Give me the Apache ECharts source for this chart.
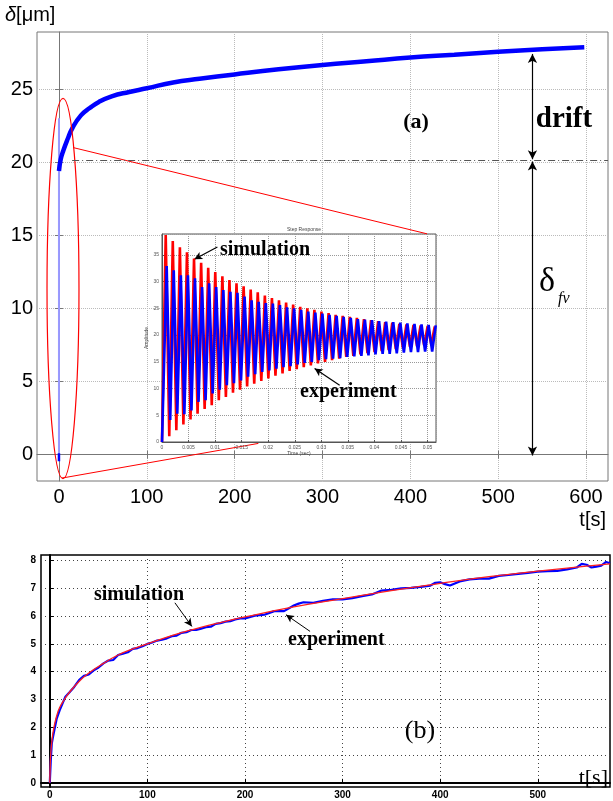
<!DOCTYPE html>
<html lang="en">
<head>
<meta charset="UTF-8">
<title>creep response</title>
<script src="https://cdn.jsdelivr.net/npm/echarts@6.0.0/dist/echarts.min.js"></script>
<style>
  body{margin:0;background:#fff;}
  #main{width:613px;height:801px;}
</style>
</head>
<body>
<div id="main"></div>
<script>
// (a) measured displacement, um, over 600 s
var mainT = [0, 2, 5, 10, 15, 25, 35, 45, 60, 80, 100, 130, 160, 200, 250, 300, 350, 400, 450, 500, 550, 598];
var mainV = [19.4, 20.2, 20.8, 21.6, 22.3, 23.2, 23.7, 24.1, 24.5, 24.8, 25.05, 25.45, 25.7, 26.0, 26.35, 26.65, 26.9, 27.15, 27.35, 27.55, 27.72, 27.85];
// compressed initial oscillation at t=0
var spikeT = [0, 0];
var spikeV = [-0.4, 23.0];
var tipV = [-0.45, 0.1];
var mainXTicks = [0, 100, 200, 300, 400, 500, 600];
var mainYTicks = [0, 5, 10, 15, 20, 25];

// inset: step response, time in ms
var simPeakT = [0.70, 2.03, 3.37, 4.70, 6.03, 7.37, 8.70, 10.03, 11.37, 12.70, 14.03, 15.37, 16.70, 18.03, 19.37, 20.70, 22.03, 23.37, 24.70, 26.03, 27.37, 28.70, 30.03, 31.37, 32.70, 34.03, 35.37, 36.70, 38.03, 39.37, 40.70, 42.03, 43.37, 44.70, 46.03, 47.37, 48.70, 50.03, 51.37];
var simPeakV = [38.7, 37.6, 36.4, 35.5, 34.3, 33.5, 32.6, 31.8, 31.0, 30.3, 29.7, 29.1, 28.5, 28.0, 27.4, 26.9, 26.5, 26.1, 25.7, 25.3, 25.0, 24.7, 24.4, 24.1, 23.8, 23.6, 23.4, 23.2, 23.0, 22.8, 22.6, 22.4, 22.3, 22.1, 22.0, 21.9, 21.8, 21.7, 21.6];
var simTroughT = [1.37, 2.70, 4.03, 5.37, 6.70, 8.03, 9.37, 10.70, 12.03, 13.37, 14.70, 16.03, 17.37, 18.70, 20.03, 21.37, 22.70, 24.03, 25.37, 26.70, 28.03, 29.37, 30.70, 32.03, 33.37, 34.70, 36.03, 37.37, 38.70, 40.03, 41.37, 42.70, 44.03, 45.37, 46.70, 48.03, 49.37, 50.70];
var simTroughV = [1.1, 2.2, 3.3, 4.2, 5.3, 6.2, 6.9, 7.8, 8.4, 9.2, 9.8, 10.4, 10.9, 11.4, 11.9, 12.4, 12.8, 13.3, 13.6, 14.0, 14.3, 14.7, 15.0, 15.3, 15.6, 15.9, 16.1, 16.4, 16.6, 16.8, 17.0, 17.2, 17.4, 17.6, 17.8, 17.9, 18.1, 18.3];
var expPeakT = [0.88, 2.21, 3.55, 4.88, 6.21, 7.55, 8.88, 10.21, 11.55, 12.88, 14.21, 15.55, 16.88, 18.21, 19.55, 20.88, 22.21, 23.55, 24.88, 26.21, 27.55, 28.88, 30.21, 31.55, 32.88, 34.21, 35.55, 36.88, 38.21, 39.55, 40.88, 42.21, 43.55, 44.88, 46.21, 47.55, 48.88, 50.21, 51.55];
var expPeakV = [32.9, 32.1, 31.2, 31.2, 30.6, 29.0, 29.7, 29.0, 28.4, 28.1, 27.9, 27.2, 26.5, 26.2, 26.0, 25.9, 25.6, 25.2, 25.0, 24.7, 24.4, 24.2, 24.0, 23.8, 23.6, 23.4, 23.2, 23.0, 22.9, 22.8, 22.6, 22.5, 22.4, 22.3, 22.2, 22.1, 22.0, 21.9, 21.8];
var expTroughT = [1.55, 2.88, 4.21, 5.55, 6.88, 8.21, 9.55, 10.88, 12.21, 13.55, 14.88, 16.21, 17.55, 18.88, 20.21, 21.55, 22.88, 24.21, 25.55, 26.88, 28.21, 29.55, 30.88, 32.21, 33.55, 34.88, 36.21, 37.55, 38.88, 40.21, 41.55, 42.88, 44.21, 45.55, 46.88, 48.21, 49.55, 50.88];
var expTroughV = [4.1, 5.3, 5.2, 5.9, 7.5, 7.8, 9.1, 9.8, 10.6, 11.0, 11.5, 12.2, 12.7, 13.1, 13.4, 13.7, 14.0, 14.2, 14.5, 14.8, 15.0, 15.3, 15.5, 15.6, 15.7, 15.9, 16.0, 16.1, 16.2, 16.4, 16.5, 16.5, 16.6, 16.7, 16.8, 16.8, 16.9, 16.9];

// (b) drift part, experiment vs simulation
var simT = [0, 0.5, 1, 2, 4, 7, 10, 15, 20, 30, 40, 55, 70, 85, 100, 125, 150, 175, 200, 250, 300, 350, 400, 450, 500, 550, 574];
var simV = [0, 0.7, 1.05, 1.45, 1.95, 2.4, 2.7, 3.0, 3.25, 3.65, 3.95, 4.3, 4.6, 4.82, 5.0, 5.3, 5.55, 5.77, 5.97, 6.33, 6.63, 6.92, 7.18, 7.42, 7.62, 7.8, 7.88];
var expT = [0, 1, 2, 3, 5, 7, 10, 13, 16, 20, 25, 30, 35, 40, 45, 50, 55, 60, 65, 70, 75, 80, 85, 90, 95, 100, 105, 110, 115, 120, 125, 130, 135, 140, 145, 150, 155, 160, 165, 170, 175, 180, 185, 190, 195, 200, 210, 220, 230, 240, 250, 255, 260, 270, 280, 290, 300, 310, 320, 330, 340, 350, 360, 370, 380, 390, 395, 400, 405, 410, 420, 430, 440, 450, 460, 470, 480, 490, 500, 510, 520, 530, 540, 545, 550, 555, 560, 565, 570, 574];
var expV = [0, 0.8, 1.4, 1.6, 1.95, 2.3, 2.6, 2.85, 3.1, 3.25, 3.45, 3.7, 3.85, 3.9, 4.05, 4.15, 4.3, 4.4, 4.42, 4.6, 4.65, 4.7, 4.82, 4.85, 4.92, 5.0, 5.05, 5.12, 5.15, 5.2, 5.28, 5.3, 5.4, 5.42, 5.5, 5.5, 5.55, 5.6, 5.62, 5.72, 5.75, 5.8, 5.82, 5.88, 5.92, 5.92, 6.02, 6.05, 6.18, 6.18, 6.38, 6.45, 6.5, 6.48, 6.55, 6.6, 6.6, 6.65, 6.72, 6.78, 6.92, 6.95, 7.0, 7.02, 7.05, 7.1, 7.2, 7.22, 7.15, 7.1, 7.25, 7.32, 7.35, 7.35, 7.45, 7.48, 7.52, 7.56, 7.6, 7.62, 7.63, 7.68, 7.75, 7.88, 7.85, 7.75, 7.78, 7.82, 7.95, 7.9];
var botXTicks = [0, 100, 200, 300, 400, 500];
var botYTicks = [0, 1, 2, 3, 4, 5, 6, 7, 8];

function pairs(xs, ys) {
    return xs.map(function (x, i) { return [x, ys[i]]; });
}
function zigzag(pt, pv, tt, tv) {
    var d = [[0, 0]];
    for (var i = 0; i < pt.length; i++) {
        d.push([pt[i], pv[i]]);
        if (i < tt.length) d.push([tt[i], tv[i]]);
    }
    return d;
}
function arrow(a, b, both) {
    return [{ coord: a, symbol: both ? 'arrow' : 'none' }, { coord: b, symbol: 'arrow' }];
}

var myChart = echarts.init(document.getElementById('main'));
var sans = 'Liberation Sans';
var serif = 'Liberation Serif';

var option = {
    animation: false,
    backgroundColor: '#fff',
    grid: [
        { left: 37, top: 32, width: 571, height: 449, show: true, borderColor: '#777', borderWidth: 1 },
        { left: 162, top: 234, width: 274, height: 208, show: true, backgroundColor: '#fff', borderColor: '#555', borderWidth: 1, z: 5 },
        { left: 41, top: 555, width: 569, height: 232, show: true, borderColor: '#000', borderWidth: 1.5 }
    ],
    xAxis: [
        { gridIndex: 0, type: 'value', min: -25, max: 625,
          axisLine: { lineStyle: { color: '#777' } },
          axisTick: { inside: true, length: 4, customValues: mainXTicks, lineStyle: { color: '#777' } },
          axisLabel: { customValues: mainXTicks, fontSize: 20, fontFamily: sans, color: '#000', margin: 6 },
          splitLine: { show: true, lineStyle: { type: 'dotted', color: '#bbb' } } },
        { gridIndex: 0, type: 'value', position: 'top', min: -25, max: 625,
          axisLine: { show: false },
          axisTick: { inside: true, length: 4, customValues: mainXTicks, lineStyle: { color: '#777' } },
          axisLabel: { show: false }, splitLine: { show: false } },
        { gridIndex: 1, type: 'value', min: 0, max: 51.6, interval: 5, z: 5,
          name: 'Time (sec)', nameLocation: 'middle', nameGap: 9,
          nameTextStyle: { fontSize: 5, fontFamily: sans, color: '#444' },
          axisLine: { lineStyle: { color: '#555' } },
          axisTick: { inside: true, length: 2, lineStyle: { color: '#555' } },
          axisLabel: { fontSize: 5, fontFamily: sans, color: '#555', margin: 3, showMaxLabel: false,
                       formatter: function (v) { return v === 0 ? '0' : String(v / 1000); } },
          splitLine: { show: true, lineStyle: { type: 'dotted', color: '#999' } } },
        { gridIndex: 2, type: 'value', min: -9, max: 574,
          axisLine: { lineStyle: { color: '#000', width: 2 } },
          axisTick: { inside: true, length: 4, customValues: botXTicks, lineStyle: { color: '#000' } },
          axisLabel: { customValues: botXTicks, fontSize: 10, fontWeight: 'bold', fontFamily: sans, color: '#000', margin: 3 },
          splitLine: { show: true, lineStyle: { type: [1, 3], color: '#444' } } }
    ],
    yAxis: [
        { gridIndex: 0, type: 'value', min: -1.8, max: 28.9,
          axisLine: { lineStyle: { color: '#777' } },
          axisTick: { inside: true, length: 4, customValues: mainYTicks, lineStyle: { color: '#777' } },
          axisLabel: { customValues: mainYTicks, fontSize: 20, fontFamily: sans, color: '#000', margin: 4 },
          splitLine: { show: true, lineStyle: { type: 'dotted', color: '#bbb' } } },
        { gridIndex: 0, type: 'value', position: 'right', min: -1.8, max: 28.9,
          axisLine: { show: false },
          axisTick: { inside: true, length: 4, customValues: mainYTicks, lineStyle: { color: '#777' } },
          axisLabel: { show: false }, splitLine: { show: false } },
        { gridIndex: 1, type: 'value', min: 0, max: 38.9, interval: 5, z: 5,
          name: 'Amplitude', nameLocation: 'middle', nameGap: 9,
          nameTextStyle: { fontSize: 5, fontFamily: sans, color: '#444' },
          axisLine: { lineStyle: { color: '#555' } },
          axisTick: { inside: true, length: 2, lineStyle: { color: '#555' } },
          axisLabel: { fontSize: 5, fontFamily: sans, color: '#555', margin: 3, showMaxLabel: false },
          splitLine: { show: true, lineStyle: { type: 'dotted', color: '#999' } } },
        { gridIndex: 2, type: 'value', min: -0.15, max: 8.2,
          axisLine: { lineStyle: { color: '#000', width: 2 } },
          axisTick: { inside: true, length: 4, customValues: botYTicks, lineStyle: { color: '#000' } },
          axisLabel: { customValues: botYTicks, fontSize: 10, fontWeight: 'bold', fontFamily: sans, color: '#000', margin: 5 },
          splitLine: { show: true, lineStyle: { type: [1, 3], color: '#444' } } }
    ],
    title: {
        text: 'Step Response', left: 299, top: 222, textAlign: 'center',
        textStyle: { fontSize: 5, fontWeight: 'normal', fontFamily: sans, color: '#444' }
    },
    series: [
        { type: 'line', xAxisIndex: 0, yAxisIndex: 0, data: pairs(spikeT, spikeV), showSymbol: false, z: 2,
          lineStyle: { color: '#9a9aff', width: 2 },
          markLine: { silent: true, symbol: 'none', label: { show: false },
                      lineStyle: { color: '#ff0000', width: 1, type: 'solid' },
                      data: [
                          [{ coord: [16, 21.0] }, { coord: [419, 15.1] }],
                          [{ coord: [3.5, -1.6] }, { coord: [227, 0.77] }]
                      ] } },
        { type: 'line', xAxisIndex: 0, yAxisIndex: 0, data: pairs(spikeT, tipV), showSymbol: false, z: 3,
          lineStyle: { color: '#0000ff', width: 2.5 } },
        { type: 'line', xAxisIndex: 0, yAxisIndex: 0, data: pairs(mainT, mainV), showSymbol: false, smooth: true, z: 3,
          lineStyle: { color: '#0000ff', width: 4.5 },
          markLine: { silent: true, label: { show: false }, symbolSize: [7, 9],
                      lineStyle: { color: '#000', width: 1.2, type: 'solid' },
                      data: [
                          arrow([539, 20.2], [539, 27.4], true),
                          arrow([539, 20.05], [539, -0.05], true),
                          [{ coord: [15, 20.15], symbol: 'none', lineStyle: { color: '#555', width: 1, type: [7, 3, 1, 3] } },
                           { coord: [625, 20.15], symbol: 'none' }]
                      ] } },
        { type: 'custom', xAxisIndex: 0, yAxisIndex: 0, clip: false, z: 4, silent: true,
          data: [[4.6, 11.36, 18.2, 13.0]],
          renderItem: function (params, api) {
              var c = api.coord([api.value(0), api.value(1)]);
              var s = api.size([api.value(2), api.value(3)]);
              return { type: 'ellipse', shape: { cx: c[0], cy: c[1], rx: s[0], ry: s[1] },
                       style: { fill: 'none', stroke: '#ff0000', lineWidth: 1.2 } };
          } },
        { type: 'line', xAxisIndex: 2, yAxisIndex: 2, data: zigzag(simPeakT, simPeakV, simTroughT, simTroughV),
          showSymbol: false, z: 6, lineStyle: { color: '#ff0000', width: 2.6 } },
        { type: 'line', xAxisIndex: 2, yAxisIndex: 2, data: zigzag(expPeakT, expPeakV, expTroughT, expTroughV),
          showSymbol: false, z: 7, lineStyle: { color: '#0000ff', width: 2.6 },
          markLine: { silent: true, label: { show: false }, symbolSize: [6, 8],
                      lineStyle: { color: '#000', width: 1.2, type: 'solid' },
                      data: [
                          arrow([10.43, 36.46], [6.09, 34.16]),
                          arrow([33.45, 10.62], [28.74, 13.75])
                      ] } },
        { type: 'line', xAxisIndex: 3, yAxisIndex: 3, data: pairs(expT, expV), showSymbol: false, z: 3,
          lineStyle: { color: '#0000ff', width: 2.2 } },
        { type: 'line', xAxisIndex: 3, yAxisIndex: 3, data: pairs(simT, simV), showSymbol: false, smooth: true, z: 4,
          lineStyle: { color: '#ff2020', width: 1.3 },
          markLine: { silent: true, label: { show: false }, symbolSize: [6, 8],
                      lineStyle: { color: '#000', width: 1, type: 'solid' },
                      data: [
                          arrow([128.2, 6.48], [145.6, 5.63]),
                          arrow([266.7, 5.45], [242, 6.05])
                      ] } }
    ],
    graphic: [
        { type: 'text', z: 10, style: { x: 5, y: 15, text: '{d|δ}[μm]', fontSize: 20, fontFamily: sans, fill: '#000', verticalAlign: 'middle',
          rich: { d: { fontStyle: 'italic', fontSize: 20, fontFamily: sans } } } },
        { type: 'text', z: 10, style: { x: 606, y: 520, text: 't[s]', fontSize: 20, fontFamily: sans, fill: '#000', align: 'right', verticalAlign: 'middle' } },
        { type: 'text', z: 10, style: { x: 416, y: 122, text: '(a)', fontSize: 22, fontWeight: 'bold', fontFamily: serif, fill: '#000', align: 'center', verticalAlign: 'middle' } },
        { type: 'text', z: 10, style: { x: 564, y: 120, text: 'drift', fontSize: 29, fontWeight: 'bold', fontFamily: serif, fill: '#000', align: 'center', verticalAlign: 'middle' } },
        { type: 'text', z: 10, style: { x: 539, y: 282, text: 'δ', fontSize: 34, fontFamily: serif, fill: '#000', verticalAlign: 'middle' } },
        { type: 'text', z: 10, style: { x: 558, y: 299, text: 'fv', fontSize: 16, fontStyle: 'italic', fontFamily: serif, fill: '#000', verticalAlign: 'middle' } },
        { type: 'text', z: 10, style: { x: 220, y: 250, text: 'simulation', fontSize: 20, fontWeight: 'bold', fontFamily: serif, fill: '#000', verticalAlign: 'middle' } },
        { type: 'text', z: 10, style: { x: 300, y: 392, text: 'experiment', fontSize: 20, fontWeight: 'bold', fontFamily: serif, fill: '#000', verticalAlign: 'middle' } },
        { type: 'text', z: 10, style: { x: 94, y: 595, text: 'simulation', fontSize: 20, fontWeight: 'bold', fontFamily: serif, fill: '#000', verticalAlign: 'middle' } },
        { type: 'text', z: 10, style: { x: 288, y: 640, text: 'experiment', fontSize: 20, fontWeight: 'bold', fontFamily: serif, fill: '#000', verticalAlign: 'middle' } },
        { type: 'text', z: 10, style: { x: 420, y: 731, text: '(b)', fontSize: 26, fontFamily: serif, fill: '#000', align: 'center', verticalAlign: 'middle' } },
        { type: 'text', z: 10, style: { x: 608, y: 778, text: 't[s]', fontSize: 22, fontFamily: serif, fill: '#000', align: 'right', verticalAlign: 'middle' } }
    ]
};

myChart.setOption(option);
</script>
</body>
</html>
